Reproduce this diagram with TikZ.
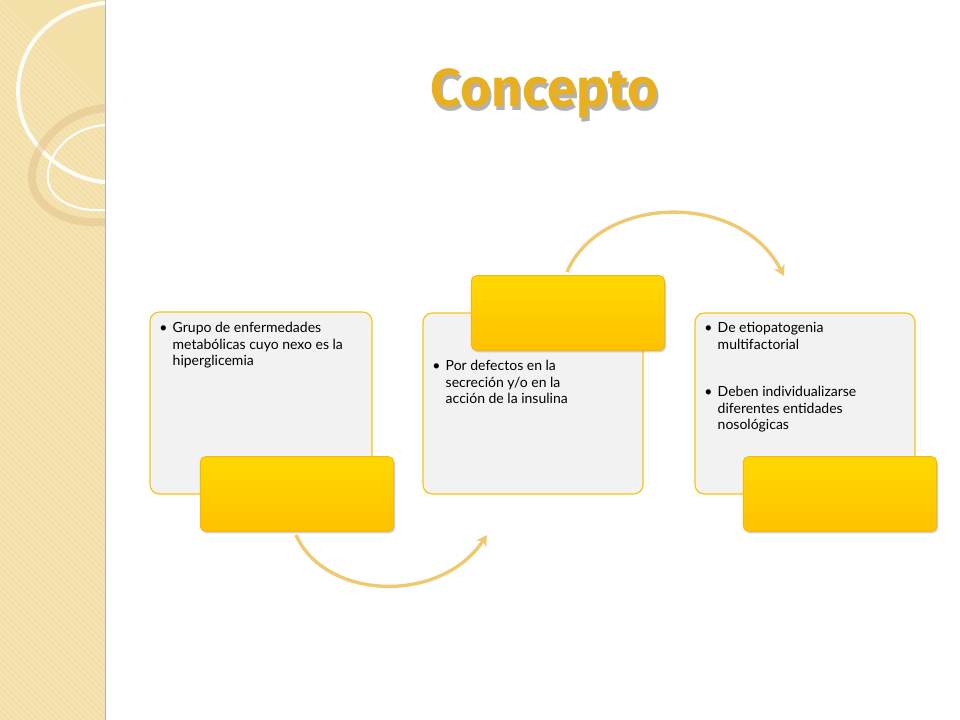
\documentclass[tikz,border=0pt]{standalone}
\usepackage{fontspec}
\setmainfont{Lato}
\newfontfamily\titlefont{Fira Sans}
\usetikzlibrary{arrows.meta,shadows}
\definecolor{beige}{HTML}{F3DFA8}
\definecolor{goldb}{HTML}{F5C518}
\definecolor{goldf}{HTML}{FFC800}
\definecolor{boxg}{HTML}{F2F2F2}
\definecolor{arcc}{HTML}{F0C870}
\definecolor{titlec}{HTML}{E8B020}
\tikzset{
 panel/.style={draw=goldb,line width=0.9pt,fill=boxg,rounded corners=7pt},
 goldbox/.style={draw=goldb!80!orange,line width=0.8pt,top color=goldf!70!yellow,bottom color=goldf!90!orange,rounded corners=4pt,drop shadow={shadow xshift=1pt,shadow yshift=-1.5pt,opacity=0.35}},
 txt/.style={anchor=north west,align=left,font=\fontsize{10.5}{12.5}\selectfont,inner sep=0pt},
 arcline/.style={draw=arcc,line width=2.5pt,-{Stealth[length=8pt,width=9pt]}}
}
\begin{document}
\begin{tikzpicture}[x=0.75pt,y=-0.75pt]
\useasboundingbox (0,0) rectangle (960,720);
\fill[white] (0,0) rectangle (960,720);
\fill[beige] (0,0) rectangle (105,720);
\foreach \i in {0,6,...,720} \draw[white,opacity=0.25,line width=0.6pt] (0,\i) -- (105,\i+105);
\draw[gray!60,line width=0.6pt] (105,0) -- (105,720);
\draw[white!90!beige,line width=3pt] (105,3) .. controls (40,10) and (10,60) .. (20,110) .. controls (28,150) and (70,180) .. (105,182);
\draw[beige!70!brown,line width=6pt,opacity=0.5] (105,108) .. controls (60,112) and (30,150) .. (32,180) .. controls (35,210) and (70,225) .. (105,222);
\draw[white,line width=1.5pt] (105,125) .. controls (65,128) and (45,160) .. (48,180) .. controls (50,200) and (75,212) .. (105,210);
\node[text=black!60,opacity=0.5] (tshadow) at (547,97) {\titlefont\bfseries\fontsize{40}{40}\selectfont Concepto};
\node[text=titlec] (title) at (545,93) {\titlefont\bfseries\fontsize{40}{40}\selectfont Concepto};
% panels
\draw[panel] (150,312) rectangle (372,494);
\draw[panel] (423,313) rectangle (643,494);
\draw[panel] (695,313) rectangle (915,494);
\node[goldbox,minimum width=145pt,minimum height=56pt] (g1) at (297,494) {};
\node[goldbox,minimum width=145pt,minimum height=56pt] (g2) at (568,313) {};
\node[goldbox,minimum width=145pt,minimum height=56pt] (g3) at (840,494) {};
\node[txt] (t1) at (159,322) {\textbullet\hspace{4pt}\parbox[t]{130pt}{\raggedright Grupo de enfermedades metabólicas cuyo nexo es la hiperglicemia}};
\node[txt] (t2) at (432,360) {\textbullet\hspace{4pt}\parbox[t]{112pt}{\raggedright Por defectos en la secreción y/o en la acción de la insulina}};
\node[txt] (t3) at (704,322) {\textbullet\hspace{4pt}\parbox[t]{128pt}{\raggedright De etiopatogenia multifactorial}};
\node[txt] (t4) at (704,386) {\textbullet\hspace{4pt}\parbox[t]{128pt}{\raggedright Deben individualizarse diferentes entidades nosológicas}};
\coordinate (a1) at (296,535);
\coordinate (b1) at (487,535);
\coordinate (a2) at (567,272);
\coordinate (b2) at (784,276);
\draw[arcline] (a1) .. controls (325,600) and (440,605) .. (b1);
\draw[arcline] (a2) .. controls (600,195) and (740,190) .. (b2);
\end{tikzpicture}
\end{document}
